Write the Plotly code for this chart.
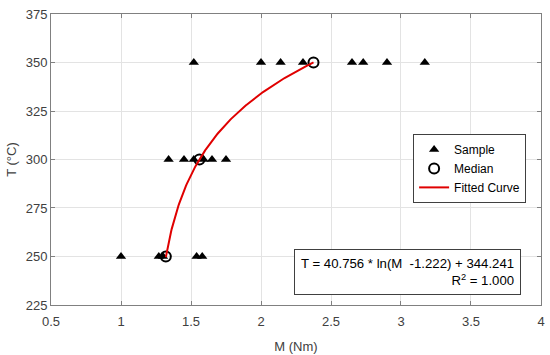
import numpy as np
import plotly.graph_objects as go

# Sample data
sample_M = [1.00, 1.27, 1.30, 1.54, 1.58,
            1.34, 1.45, 1.52, 1.59, 1.65, 1.75,
            1.52, 2.00, 2.14, 2.30, 2.65, 2.73, 2.90, 3.17]
sample_T = [250, 250, 250, 250, 250,
            300, 300, 300, 300, 300, 300,
            350, 350, 350, 350, 350, 350, 350, 350]

median_M = [1.32, 1.56, 2.375]
median_T = [250, 300, 350]

# Fit parameters: T = a*ln(M - c) + b
fit_a, fit_c, fit_b = 40.756, 1.222, 344.241

x_ticks = [0.5, 1, 1.5, 2, 2.5, 3, 3.5, 4]
y_ticks = [225, 250, 275, 300, 325, 350, 375]

fit_M = np.linspace(median_M[0], median_M[-1], 200)
fit_T = fit_a * np.log(fit_M - fit_c) + fit_b

fig = go.Figure()
fig.add_trace(go.Scatter(x=sample_M, y=sample_T, mode="markers", name="Sample",
                         marker=dict(symbol="triangle-up", size=9, color="black")))
fig.add_trace(go.Scatter(x=median_M, y=median_T, mode="markers", name="Median",
                         marker=dict(symbol="circle-open", size=10, color="black",
                                     line=dict(width=2, color="black"))))
fig.add_trace(go.Scatter(x=fit_M, y=fit_T, mode="lines", name="Fitted Curve",
                         line=dict(color="#e00000", width=2)))

axis_common = dict(showgrid=True, gridcolor="#e3e3e3", gridwidth=1,
                   showline=True, linecolor="#808080", linewidth=1, mirror="ticks",
                   ticks="inside", ticklen=4, tickcolor="#808080",
                   zeroline=False, automargin=False,
                   tickfont=dict(size=13, color="#404040"))

fig.update_xaxes(range=[0.4999, 4.0001], tickvals=x_ticks,
                 ticktext=[f"{v:g}" for v in x_ticks], ticklabelstandoff=4,
                 title=dict(text="M (Nm)", font=dict(size=13, color="#404040"), standoff=14),
                 **axis_common)
fig.update_yaxes(range=[224.99, 375.01], tickvals=y_ticks,
                 title=dict(text="T (°C)", font=dict(size=13, color="#404040"), standoff=6),
                 **axis_common)

fig.add_annotation(xref="paper", yref="paper", x=0.959, y=0.034,
                   xanchor="right", yanchor="bottom", align="right",
                   text="T = 40.756 * ln(M  -1.222) + 344.241<br>R<sup>2</sup> = 1.000",
                   showarrow=False, bordercolor="#404040", borderwidth=1,
                   borderpad=6, bgcolor="white",
                   font=dict(size=13.2, color="black"))

fig.update_layout(
    width=550, height=355,
    margin=dict(l=51, r=9, t=14, b=50),
    paper_bgcolor="white", plot_bgcolor="white",
    font=dict(family="Liberation Sans, Arial, sans-serif"),
    legend=dict(x=0.739, y=0.588, xanchor="left", yanchor="top",
                bordercolor="#404040", borderwidth=1, bgcolor="white",
                font=dict(size=12, color="black"), tracegroupgap=0,
                itemwidth=30),
)

fig.write_html("out.html", config={"displayModeBar": False},
               post_script="document.body.style.margin='0';document.body.style.overflow='hidden';")
